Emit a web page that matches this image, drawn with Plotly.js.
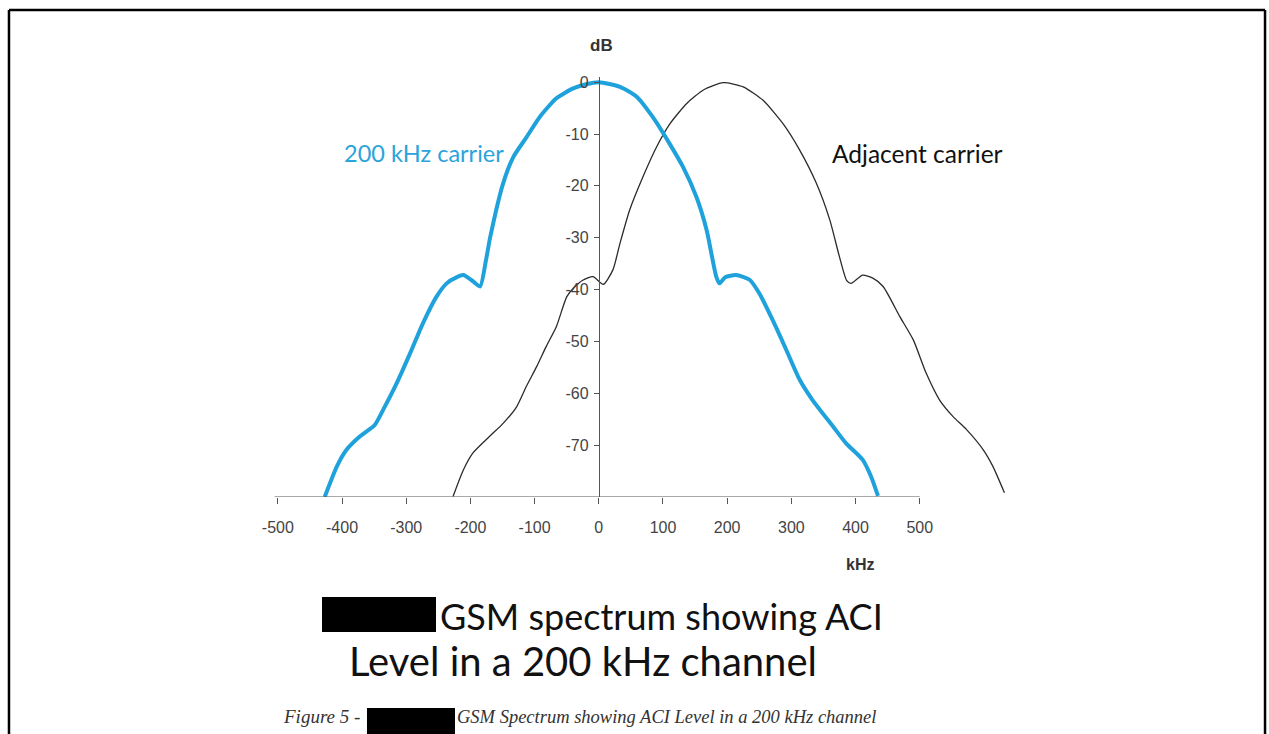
<!DOCTYPE html>
<html>
<head>
<meta charset="utf-8">
<script src="https://cdn.plot.ly/plotly-3.0.1.min.js"></script>
<style>
html,body{margin:0;padding:0;background:#ffffff;}
#chart{width:1269px;height:734px;}
</style>
</head>
<body>
<div id="chart"></div>
<script>
// ---- data (kHz, dB) ----
const carrierFreq = [-427,-408,-393,-372,-349,-336,-315,-294,-274,-253,-237,-221,-211,-198,-185,-176,-169,-149,-133,-112,-92,-66,-40,-20,0,33,59,84,110,131,152,168,183,188,197,214,235,250,271,292,313,333,365,385,411,424,435];
const carrierDb   = [-80,-74.1,-70.9,-68.3,-66.1,-63.2,-58.1,-52.3,-46.5,-41.4,-38.8,-37.6,-37.2,-38.2,-39.4,-34.5,-29.8,-19.5,-14.4,-10.5,-6.7,-3.1,-1.2,-0.4,0,-0.9,-2.8,-6.7,-11.8,-16.3,-22.1,-28.5,-37.5,-38.8,-37.6,-37.2,-38.1,-40.7,-45.9,-51.6,-57.4,-61.3,-66.4,-69.6,-72.8,-76,-79.8];

const adjFreq = [-227,-211,-196,-170,-149,-128,-113,-97,-82,-66,-50,-40,-25,-9,7,22,33,48,69,90,111,137,163,194,225,256,287,313,339,360,375,386,393,411,427,443,469,490,510,531,552,573,599,614,632];
const adjDb   = [-79.9,-74.8,-71.5,-68.3,-65.8,-62.6,-58.7,-54.9,-51,-47.1,-41.4,-39.8,-38.2,-37.5,-39.0,-36.2,-31.1,-24.7,-18.2,-12.5,-8,-4.1,-1.5,-0.1,-0.9,-3.5,-8,-13.1,-19.5,-26.6,-33.7,-38.2,-38.8,-37.2,-37.8,-39.4,-45.2,-49.7,-56.1,-61.3,-64.5,-67,-70.9,-74.1,-79.2];

const xTickVals = [-500,-400,-300,-200,-100,0,100,200,300,400,500];
const xTickText = ['-500','-400','-300','-200','-100','0','100','200','300','400','500'];
const yTickVals = [0,-10,-20,-30,-40,-50,-60,-70];
const yTickText = ['0','-10','-20','-30','-40','-50','-60','-70'];

const traces = [
  {x: adjFreq, y: adjDb, type:'scatter', mode:'lines', line:{color:'#2b2b2b', width:1.3, shape:'spline', smoothing:0.6}, hoverinfo:'skip'},
  {x: carrierFreq, y: carrierDb, type:'scatter', mode:'lines', line:{color:'#1fa2db', width:4, shape:'spline', smoothing:0.6}, hoverinfo:'skip'}
];

const tickFont = {family:'Liberation Sans, Arial, sans-serif', size:16, color:'#444'};
const XR = [-520, 650];

const layout = {
  width:1269, height:734,
  margin:{l:265, r:253, t:77, b:237, pad:0},
  paper_bgcolor:'#ffffff', plot_bgcolor:'rgba(0,0,0,0)',
  showlegend:false,
  xaxis:{range:XR, tickvals:xTickVals, ticktext:xTickText, ticks:'outside', ticklen:6, tickcolor:'#555', tickwidth:1,
         showline:false, zeroline:false, showgrid:false, tickfont:tickFont, ticklabelstandoff:10, fixedrange:true},
  xaxis2:{range:XR, overlaying:'x', anchor:'y', side:'bottom', tickvals:xTickVals, ticks:'inside', ticklen:6, tickcolor:'#555', tickwidth:1,
         showticklabels:false, showline:false, zeroline:false, showgrid:false, fixedrange:true},
  yaxis:{range:[-80,1], anchor:'free', position:520/1170, tickvals:yTickVals, ticktext:yTickText, ticks:'outside', ticklen:5, tickcolor:'#555',
         showline:true, linecolor:'#555', linewidth:1, zeroline:false, showgrid:false, tickfont:tickFont, ticklabelstandoff:2, fixedrange:true},
  shapes:[
    {type:'line', xref:'x', yref:'y', x0:-505, x1:500, y0:-80, y1:-80, line:{color:'#555', width:1}},
    // page border
    {type:'line', xref:'paper', yref:'paper', x0:-0.3409, x1:1.3316, y0:1.1595, y1:1.1595, line:{color:'#000', width:2.5}},
    {type:'line', xref:'paper', yref:'paper', x0:-0.3409, x1:-0.3409, y0:1.1595, y1:-0.62, line:{color:'#000', width:2.5}},
    {type:'line', xref:'paper', yref:'paper', x0:1.3316, x1:1.3316, y0:1.1595, y1:-0.62, line:{color:'#000', width:2.5}},
    // redaction boxes
    {type:'rect', xref:'paper', yref:'paper', x0:0.0759, x1:0.2277, y0:-0.2381, y1:-0.3214, fillcolor:'#000', line:{width:0}},
    {type:'rect', xref:'paper', yref:'paper', x0:0.1358, x1:0.2530, y0:-0.5024, y1:-0.62, fillcolor:'#000', line:{width:0}}
  ],
  annotations:[
    {text:'dB', xref:'paper', yref:'paper', x:0.4487, y:1.0740, showarrow:false, xanchor:'center', yanchor:'middle',
     font:{family:'Liberation Sans, Arial, sans-serif', size:17, color:'#333', weight:'bold'}},
    {text:'kHz', xref:'paper', yref:'paper', x:0.7923, y:-0.1619, showarrow:false, xanchor:'center', yanchor:'middle',
     font:{family:'Liberation Sans, Arial, sans-serif', size:16, color:'#333', weight:'bold'}},
    {text:'200 kHz carrier', xref:'paper', yref:'paper', x:0.2117, y:0.819, showarrow:false, xanchor:'center', yanchor:'middle',
     font:{family:'Lato, sans-serif', size:23.5, color:'#2ba3db'}},
    {text:'Adjacent carrier', xref:'paper', yref:'paper', x:0.8682, y:0.819, showarrow:false, xanchor:'center', yanchor:'middle',
     font:{family:'Lato, sans-serif', size:24.5, color:'#111'}},
    {text:'GSM spectrum showing ACI', xref:'paper', yref:'paper', x:0.2304, y:-0.2833, showarrow:false, xanchor:'left', yanchor:'middle',
     font:{family:'Lato, sans-serif', size:36, color:'#111'}},
    {text:'Level in a 200 kHz channel', xref:'paper', yref:'paper', x:0.4241, y:-0.3905, showarrow:false, xanchor:'center', yanchor:'middle',
     font:{family:'Lato, sans-serif', size:40, color:'#111'}},
    {text:'<i>Figure 5 -</i>', xref:'paper', yref:'paper', x:0.1292, y:-0.5238, showarrow:false, xanchor:'right', yanchor:'middle',
     font:{family:'Liberation Serif, serif', size:19, color:'#333'}},
    {text:'<i>GSM Spectrum showing ACI Level in a 200 kHz channel</i>', xref:'paper', yref:'paper', x:0.2530, y:-0.5238, showarrow:false, xanchor:'left', yanchor:'middle',
     font:{family:'Liberation Serif, serif', size:18.5, color:'#333'}}
  ]
};

Plotly.newPlot('chart', traces, layout, {staticPlot:true, displayModeBar:false});
</script>
</body>
</html>
